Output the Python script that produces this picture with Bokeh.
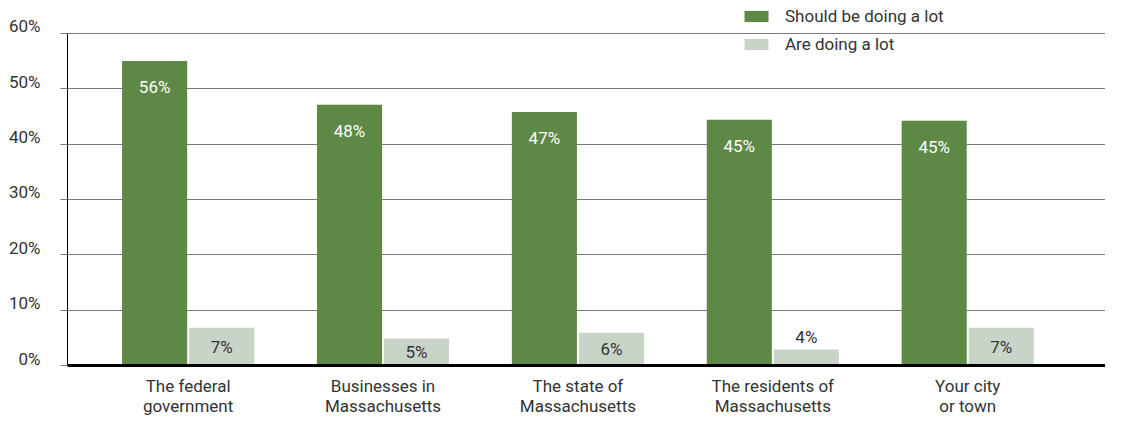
from bokeh.plotting import figure
from bokeh.models import Range1d, FixedTicker, LinearAxis, Legend, LegendItem, ColumnDataSource
from bokeh.transform import dodge
from bokeh.embed import file_html
from bokeh.resources import INLINE
from bokeh.core.properties import value

# ---------------- data ----------------
categories = [
    "The federal\ngovernment",
    "Businesses in\nMassachusetts",
    "The state of\nMassachusetts",
    "The residents of\nMassachusetts",
    "Your city\nor town",
]
series_names = ["Should be doing a lot", "Are doing a lot"]
should_values = [55.0, 47.1, 45.8, 44.4, 44.2]
are_values = [6.8, 4.9, 5.9, 2.9, 6.8]
should_labels = ["56%", "48%", "47%", "45%", "45%"]
are_labels = ["7%", "5%", "6%", "4%", "7%"]
y_ticks = [0, 10, 20, 30, 40, 50, 60]
y_tick_labels = ["0%", "10%", "20%", "30%", "40%", "50%", "60%"]

# ---------------- styling / geometry ----------------
FONT = "Roboto"
GREEN = "#5e8846"
GRAY = "#c9d4c9"
TEXT = "#333333"
GRID = "#7a7a7a"

W, H = 1105, 418
FRAME_LEFT = 67
FRAME_BOTTOM = 366          # px from top of figure
TOP_TICK_PX = 33            # px from top where 60% sits
ppu = (FRAME_BOTTOM - TOP_TICK_PX) / max(y_ticks)
y_end = FRAME_BOTTOM / ppu
x_start, x_end = -0.619, 4.707
OFF = 0.172
BAR_W = 0.334

n = len(categories)
xs = list(range(n))
are_label_y = [v / 2 if v * ppu >= 20 else v for v in are_values]
are_label_off = [0 if v * ppu >= 20 else -12 for v in are_values]

source = ColumnDataSource(dict(
    x=xs, should=should_values, are=are_values,
    should_lab=should_labels, are_lab=are_labels,
    are_ly=are_label_y, are_off=are_label_off,
))

p = figure(width=W, height=H,
           x_range=Range1d(x_start, x_end), y_range=Range1d(0, y_end),
           output_backend="svg", toolbar_location=None,
           min_border_left=FRAME_LEFT, min_border_right=0,
           min_border_top=0, min_border_bottom=H - FRAME_BOTTOM)
p.outline_line_color = None
p.background_fill_color = "white"
p.border_fill_color = "white"

# bars
r1 = p.vbar(x=dodge("x", -OFF, range=p.x_range), top="should", width=BAR_W,
            source=source, fill_color=GREEN, line_color=None)
r2 = p.vbar(x=dodge("x", OFF, range=p.x_range), top="are", width=BAR_W,
            source=source, fill_color=GRAY, line_color=None)

# value labels
p.text(x=dodge("x", -OFF, range=p.x_range), y="should", text="should_lab", source=source,
       y_offset=26, text_align="center", text_baseline="middle",
       text_font=value(FONT), text_font_size="17px", text_color="white")
p.text(x=dodge("x", OFF, range=p.x_range), y="are_ly", text="are_lab", source=source,
       y_offset="are_off", text_align="center", text_baseline="middle",
       text_font=value(FONT), text_font_size="17px", text_color=TEXT)

# x axis
xa = p.xaxis[0]
xa.ticker = FixedTicker(ticks=xs)
xa.major_label_overrides = {i: c for i, c in zip(xs, categories)}
xa.axis_line_color = "black"
xa.axis_line_width = 3
xa.major_tick_line_color = None
xa.minor_tick_line_color = None
xa.major_label_standoff = 4
xa.major_label_text_font = FONT
xa.major_label_text_font_size = "17px"
xa.major_label_text_line_height = 1.0
xa.major_label_text_color = TEXT

# y axis (line + tick stubs, labels not painted)
ya = p.yaxis[0]
ya.ticker = FixedTicker(ticks=y_ticks)
ya.bounds = (0, max(y_ticks))
ya.axis_line_color = "black"
ya.axis_line_width = 1
ya.major_tick_out = 7
ya.major_tick_in = 0
ya.major_tick_line_color = GRID
ya.minor_tick_line_color = None
ya.major_label_text_font_size = "1px"
ya.major_label_text_color = None
ya.major_label_standoff = 0

# y labels sit just above their gridlines: a label axis on a shifted range
d = 7 / ppu
p.extra_y_ranges = {"lab": Range1d(-d, y_end - d)}
ya2 = LinearAxis(y_range_name="lab", ticker=FixedTicker(ticks=y_ticks),
                 major_label_overrides={t: l for t, l in zip(y_ticks, y_tick_labels)},
                 axis_line_color=None, major_tick_line_color=None,
                 minor_tick_line_color=None, major_label_standoff=14,
                 major_label_text_font=FONT, major_label_text_font_size="17px",
                 major_label_text_color=TEXT)
p.add_layout(ya2, "left")

# grid
p.xgrid.visible = False
p.ygrid.ticker = FixedTicker(ticks=y_ticks)
p.ygrid.grid_line_color = GRID
p.ygrid.grid_line_width = 1

# legend (location measured from the frame's bottom-left)
legend = Legend(items=[LegendItem(label=series_names[0], renderers=[r1]),
                       LegendItem(label=series_names[1], renderers=[r2])],
                location=(674, FRAME_BOTTOM - 55), orientation="vertical",
                glyph_width=30, glyph_height=14, label_standoff=14,
                spacing=8, padding=0, margin=0, label_height=20,
                label_text_font=FONT, label_text_font_size="17px",
                label_text_color=TEXT, border_line_color=None,
                background_fill_alpha=0)
p.add_layout(legend)

open("out.html", "w").write(file_html(p, INLINE))
